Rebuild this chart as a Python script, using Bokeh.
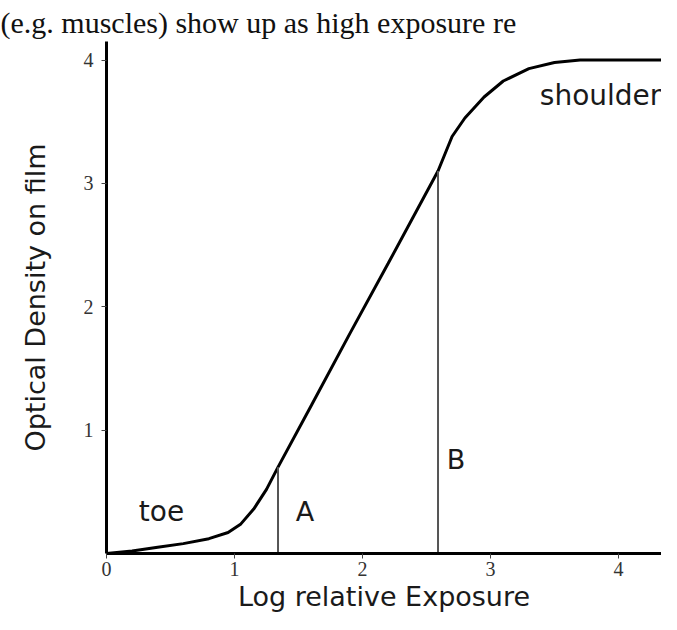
from bokeh.plotting import figure
from bokeh.models import Label, Range1d, FixedTicker
from bokeh.embed import file_html
from bokeh.resources import INLINE

# Data
curve_x = [0, 0.2, 0.4, 0.6, 0.8, 0.95, 1.05, 1.15, 1.25, 1.34, 1.6, 1.9, 2.2, 2.59,
           2.7, 2.8, 2.95, 3.1, 3.3, 3.5, 3.7, 3.9, 4.46]
curve_y = [0, 0.02, 0.05, 0.08, 0.12, 0.17, 0.24, 0.36, 0.52, 0.7, 1.2, 1.78, 2.35, 3.1,
           3.38, 3.53, 3.7, 3.83, 3.93, 3.98, 4.0, 4.0, 4.0]
marker_x = [1.34, 2.59]
marker_y = [0.7, 3.1]
marker_names = ["A", "B"]
x_ticks = [0, 1, 2, 3, 4]
y_ticks = [1, 2, 3, 4]
region_names = ["toe", "shoulder"]
region_x = [0.43, 3.86]
region_y = [0.34, 3.71]

p = figure(width=661, height=614, output_backend="svg", toolbar_location=None,
           x_range=Range1d(0, 4.336), y_range=Range1d(0, 4.15),
           min_border_left=106, min_border_right=0, min_border_top=0, min_border_bottom=57)
p.outline_line_color = None
p.grid.visible = False

p.title.text = "(e.g. muscles) show up as high exposure re"
p.title.text_font = "Liberation Serif"
p.title.text_font_style = "normal"
p.title.text_font_size = "30px"
p.title.text_color = "#111111"
p.title.align = "left"
p.title.offset = -106
p.title.standoff = 6

# curve
p.line(curve_x, curve_y, line_color="black", line_width=3)
# vertical markers
p.segment(x0=marker_x, y0=[0, 0], x1=marker_x, y1=marker_y, line_color="#555555", line_width=2)

for ax in (p.xaxis[0], p.yaxis[0]):
    ax.axis_line_width = 3
    ax.axis_line_color = "black"
    ax.major_tick_line_color = "#444444"
    ax.major_tick_in = 0
    ax.major_tick_out = 5
    ax.minor_tick_line_color = None
    ax.major_label_text_font = "Liberation Serif"
    ax.major_label_text_font_size = "20px"
    ax.major_label_text_color = "#333333"
    ax.axis_label_text_font = "DejaVu Sans"
    ax.axis_label_text_font_style = "normal"
    ax.axis_label_text_font_size = "27px"
    ax.axis_label_text_color = "#1a1a1a"

p.xaxis.ticker = FixedTicker(ticks=x_ticks)
p.yaxis.ticker = FixedTicker(ticks=y_ticks)
p.xaxis.axis_label = "Log relative Exposure"
p.yaxis.axis_label = "Optical Density on film"
p.xaxis.major_label_standoff = 3
p.yaxis.major_label_standoff = 8
p.xaxis.axis_label_standoff = 2
p.yaxis.axis_label_standoff = 30

for name, xx, yy in zip(region_names, region_x, region_y):
    p.add_layout(Label(x=xx, y=yy, text=name, text_align="center", text_baseline="middle",
                       text_font="DejaVu Sans", text_font_size="28px", text_color="#1a1a1a"))

p.add_layout(Label(x=marker_x[0] + 0.21, y=0.34, text=marker_names[0], text_align="center",
                   text_baseline="middle", text_font="DejaVu Sans", text_font_size="27px",
                   text_color="#1a1a1a"))
p.add_layout(Label(x=marker_x[1] + 0.14, y=0.76, text=marker_names[1], text_align="center",
                   text_baseline="middle", text_font="DejaVu Sans", text_font_size="27px",
                   text_color="#1a1a1a"))

open("out.html", "w").write(file_html(p, INLINE))
